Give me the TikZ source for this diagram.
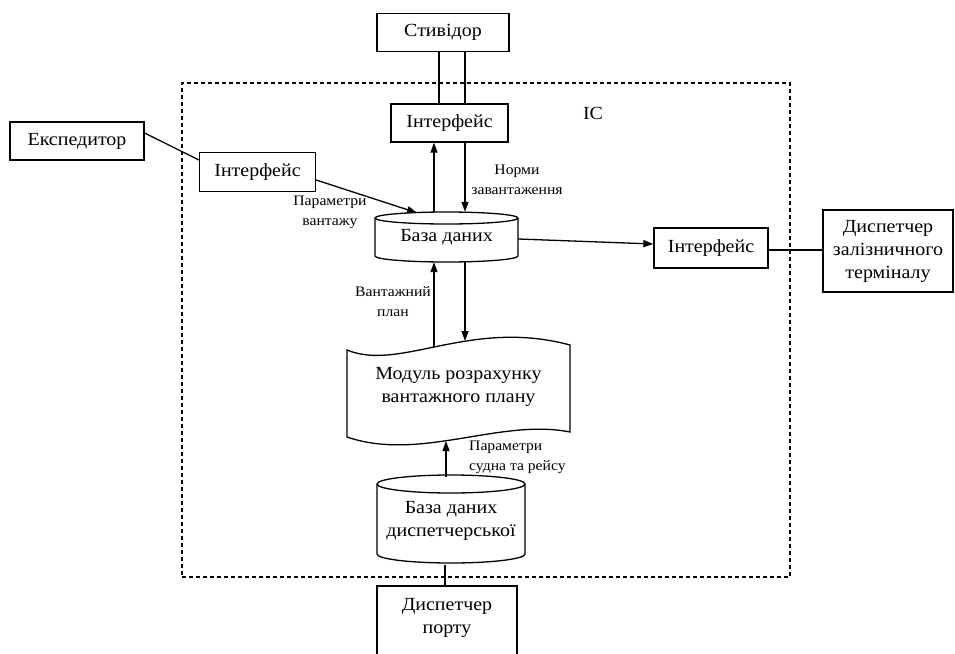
\documentclass[tikz,border=0pt]{standalone}
\usepackage{fontspec}
\setmainfont[FakeStretch=1.08]{Liberation Serif}
\usetikzlibrary{arrows.meta}
\begin{document}
\begin{tikzpicture}[x=1pt,y=-1pt,
 box/.style={draw,line width=1.3pt,fill=white,inner sep=0pt,font=\fontsize{18.5}{23}\selectfont,align=center},
 txt/.style={inner sep=0pt,font=\fontsize{18.5}{23}\selectfont,align=center},
 lbl/.style={font=\fontsize{14.5}{20}\selectfont,align=center,inner sep=0pt},
 arr/.style={line width=1.3pt,-{Triangle[length=10pt,width=7pt]}},
 ln/.style={line width=1.3pt},
 frame/.style={draw,line width=1.3pt,dash pattern=on 4pt off 3pt,inner sep=0pt}]
\useasboundingbox (0,0) rectangle (955,653);

% IS frame
\node[frame,minimum width=608pt,minimum height=494pt] (ic) at (486,330) {};
\node[txt] (iclbl) at (593,113) {ІС};

% boxes
\node[box,minimum width=132pt,minimum height=38pt] (sty) at (443,32.5) {Стивідор};
\node[box,minimum width=117pt,minimum height=38pt] (ift) at (449.5,123) {Інтерфейс};
\node[box,minimum width=134pt,minimum height=38pt] (exp) at (77,141) {Експедитор};
\node[box,minimum width=116pt,minimum height=39pt] (ifl) at (257.5,172) {Інтерфейс};
\node[box,minimum width=114pt,minimum height=40pt] (ifr) at (711,248) {Інтерфейс};
\node[box,minimum width=130pt,minimum height=82pt] (dzt) at (888,251) {Диспетчер\\залізничного\\терміналу};
\node[box,minimum width=140pt,minimum height=76pt] (dp) at (447,624) {};
\node[txt] (dpt) at (447,617.5) {Диспетчер\\порту};

% database 1 (cylinder)
\draw[ln,fill=white] (375,218) -- (375,256) arc[start angle=180,end angle=360,x radius=71.5pt,y radius=6pt]
  -- (518,218) arc[start angle=0,end angle=180,x radius=71.5pt,y radius=6pt] -- cycle;
\draw[ln] (375,218) arc[start angle=180,end angle=360,x radius=71.5pt,y radius=6pt];
\node[txt,minimum width=143pt,minimum height=50pt] (db1) at (446.5,237) {База даних};

% module (document shape)
\draw[ln,fill=white] (347,350) .. controls (400,372) and (470,318) .. (570,345) -- (570,432)
  .. controls (500,418) and (420,462) .. (347,437) -- cycle;
\node[txt,minimum width=223pt,minimum height=80pt] (mod) at (458.5,387) {Модуль розрахунку\\вантажного плану};
\coordinate (mt434) at (434,347);
\coordinate (mt465) at (465,341);
\coordinate (mb446) at (446,441);

% database 2 (cylinder)
\draw[ln,fill=white] (377,484) -- (377,554) arc[start angle=180,end angle=360,x radius=74pt,y radius=9pt]
  -- (525,484) arc[start angle=0,end angle=180,x radius=74pt,y radius=9pt] -- cycle;
\draw[ln] (377,484) arc[start angle=180,end angle=360,x radius=74pt,y radius=9pt];
\node[txt,minimum width=148pt,minimum height=88pt] (db2) at (451,521) {База даних\\диспетчерської};

% connectors
\draw[ln] ([xshift=-4pt]sty.south) -- ([xshift=-10.5pt]ift.north);
\draw[ln] ([xshift=22pt]sty.south) -- ([xshift=15.5pt]ift.north);
\draw[ln] ([yshift=8pt]exp.east) -- ([yshift=12pt]ifl.west);
\draw[arr] ([yshift=-8pt]ifl.east) -- ([xshift=-29.5pt,yshift=-1pt]db1.north);
\draw[arr] ([xshift=-12.5pt]db1.north) -- ([xshift=-15.5pt]ift.south);
\draw[arr] ([xshift=15.5pt]ift.south) -- ([xshift=18.5pt]db1.north);
\draw[arr] ([yshift=-2pt]db1.east) -- ([yshift=4pt]ifr.west);
\draw[ln] ([yshift=-2pt]ifr.east) -- ([yshift=1pt]dzt.west);
\draw[arr] ([xshift=18.5pt]db1.south) -- (mt465);
\draw[arr] (mt434) -- ([xshift=-12.5pt]db1.south);
\draw[arr] ([xshift=-5pt]db2.north) -- (mb446);
\draw[ln] ([xshift=-6pt]db2.south) -- ([xshift=-2pt]dp.north);

% labels
\node[lbl] (l1) at (330,212) {Параметри\\вантажу};
\node[lbl] (l2) at (517,180) {Норми\\завантаження};
\node[lbl] (l3) at (393,302) {Вантажний\\план};
\node[lbl,align=left,anchor=west] (l4) at (469,457) {Параметри\\судна та рейсу};
\end{tikzpicture}
\end{document}
